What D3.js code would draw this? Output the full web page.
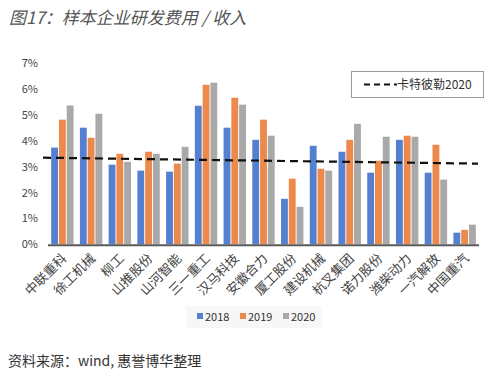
<!DOCTYPE html>
<html>
<head>
<meta charset="utf-8">
<script src="https://cdn.jsdelivr.net/npm/d3@7"></script>
<style>
  body { margin: 0; background: #fff; }
  svg { font-family: "Noto Sans CJK SC", "Liberation Sans", sans-serif; }
</style>
</head>
<body>
<div id="chart"></div>
<script>
const companies = ['中联重科', '徐工机械', '柳工', '山推股份', '山河智能', '三一重工', '汉马科技', '安徽合力',
                   '厦工股份', '建设机械', '杭叉集团', '诺力股份', '潍柴动力', '一汽解放', '中国重汽'];
const years = ['2018', '2019', '2020'];
const v2018 = [3.74, 4.51, 3.08, 2.85, 2.81, 5.36, 4.51, 4.04, 1.76, 3.81, 3.58, 2.77, 4.04, 2.77, 0.45];
const v2019 = [4.82, 4.12, 3.50, 3.58, 3.12, 6.17, 5.67, 4.82, 2.54, 2.92, 4.04, 3.23, 4.20, 3.85, 0.56];
const v2020 = [5.37, 5.05, 3.19, 3.50, 3.77, 6.25, 5.40, 4.20, 1.45, 2.85, 4.66, 4.16, 4.16, 2.50, 0.76];
const caterpillar = [3.35, 3.12]; // 卡特彼勒2020, left end and right end
const yTicks = [0, 1, 2, 3, 4, 5, 6, 7];

const series = [v2018, v2019, v2020];
const colors = ['#5580D0', '#ED8A4B', '#A9A9A9'];

const svg = d3.select('#chart').append('svg').attr('width', 496).attr('height', 377);

// title
svg.append('text')
    .attr('x', 9).attr('y', 24)
    .attr('font-size', 17)
    .attr('font-style', 'italic')
    .attr('fill', '#555')
    .text('图17：样本企业研发费用 / 收入');

const x = d3.scaleBand().domain(companies).range([48, 479]).paddingInner(0.22).paddingOuter(0.11);
const x1 = d3.scaleBand().domain(years).range([0, x.bandwidth()]).paddingInner(0.12);
const y = d3.scaleLinear().domain([0, 7]).range([244.3, 63.3]);

// y tick labels
svg.append('g')
    .selectAll('text')
    .data(yTicks)
    .join('text')
    .attr('x', 38)
    .attr('y', d => y(d) + 4)
    .attr('text-anchor', 'end')
    .attr('font-size', 11)
    .attr('fill', '#444')
    .text(d => d + '%');

// bars
const groups = svg.append('g')
    .selectAll('g')
    .data(companies)
    .join('g')
    .attr('transform', d => `translate(${x(d)},0)`);

groups.selectAll('rect')
    .data((d, i) => years.map((yr, k) => ({ yr, v: series[k][i], k })))
    .join('rect')
    .attr('x', d => x1(d.yr))
    .attr('width', x1.bandwidth())
    .attr('y', d => y(d.v))
    .attr('height', d => y(0) - y(d.v))
    .attr('fill', d => colors[d.k]);

// x axis line
svg.append('line')
    .attr('x1', 48).attr('x2', 479)
    .attr('y1', y(0) + 1).attr('y2', y(0) + 1)
    .attr('stroke', '#595959').attr('stroke-width', 2);

// category labels
svg.append('g')
    .selectAll('text')
    .data(companies)
    .join('text')
    .attr('transform', d => `translate(${x(d) + x.bandwidth() / 2 + 5},${y(0) + 15}) rotate(-45)`)
    .attr('text-anchor', 'end')
    .attr('font-size', 13)
    .attr('fill', '#444')
    .text(d => d);

// caterpillar dashed line
svg.append('line')
    .attr('x1', 43).attr('x2', 478)
    .attr('y1', y(caterpillar[0])).attr('y2', y(caterpillar[1]))
    .attr('stroke', '#111').attr('stroke-width', 2.2)
    .attr('stroke-dasharray', '8,5');

// top-right legend
const lg = svg.append('g');
lg.append('rect')
    .attr('x', 351.5).attr('y', 71.5).attr('width', 132).attr('height', 26)
    .attr('fill', '#fff').attr('stroke', '#999');
lg.append('line')
    .attr('x1', 364).attr('x2', 397).attr('y1', 84.5).attr('y2', 84.5)
    .attr('stroke', '#111').attr('stroke-width', 2.2)
    .attr('stroke-dasharray', '6,4');
lg.append('text')
    .attr('x', 397).attr('y', 89)
    .attr('font-size', 12).attr('fill', '#333')
    .text('卡特彼勒2020');

// bottom legend
const bl = svg.append('g');
bl.append('rect')
    .attr('x', 186).attr('y', 306).attr('width', 136).attr('height', 22)
    .attr('fill', '#f7f7f7');
const lx = [197, 240, 283];
years.forEach((yr, k) => {
    bl.append('rect')
        .attr('x', lx[k]).attr('y', 313).attr('width', 6).attr('height', 6)
        .attr('fill', colors[k]);
    bl.append('text')
        .attr('x', lx[k] + 8).attr('y', 321)
        .attr('font-size', 11).attr('fill', '#333')
        .text(yr);
});

// source
svg.append('text')
    .attr('x', 8).attr('y', 366)
    .attr('font-size', 14).attr('fill', '#333')
    .text('资料来源：wind, 惠誉博华整理');
</script>
</body>
</html>
